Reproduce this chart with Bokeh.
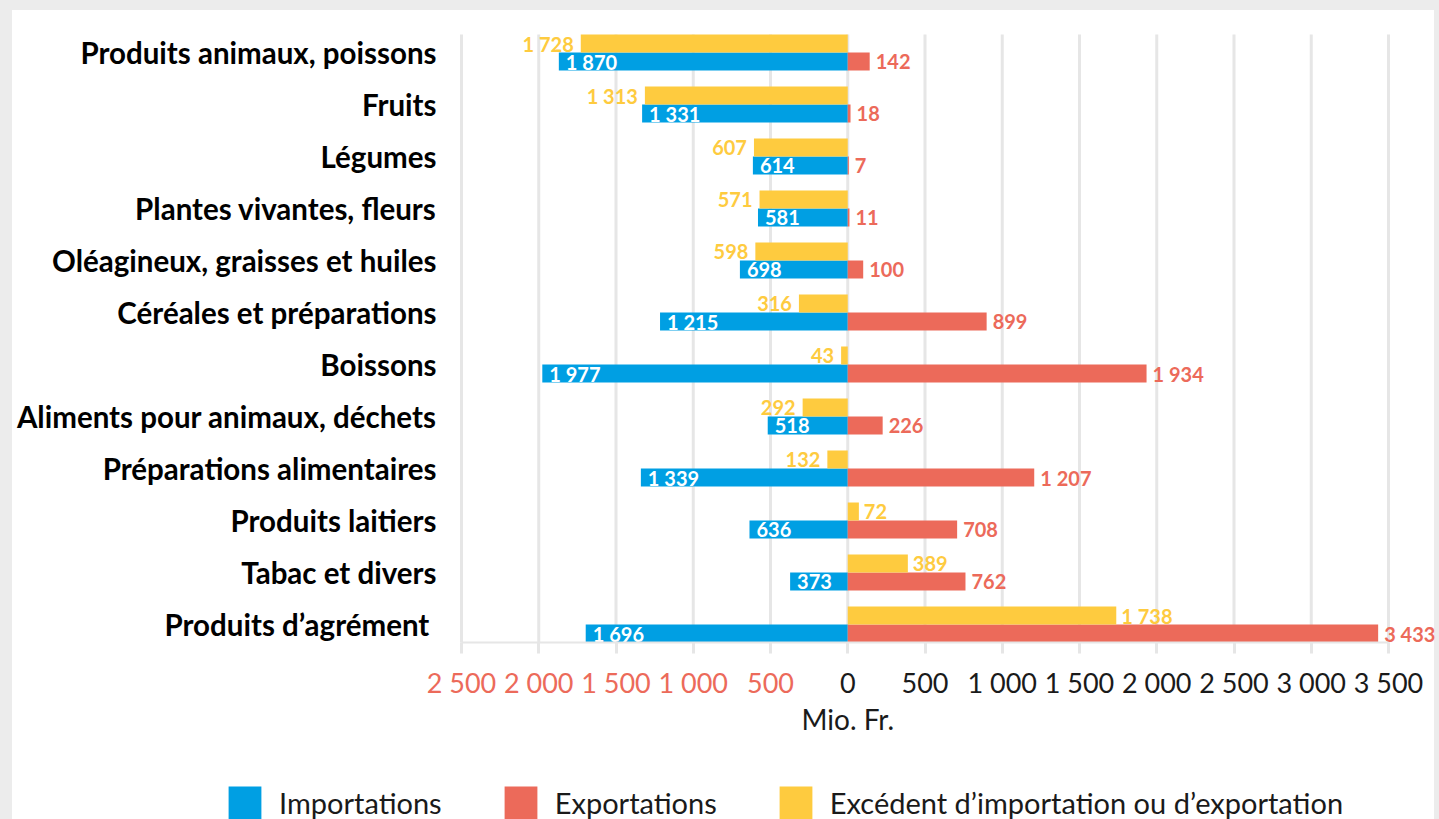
from bokeh.plotting import figure
from bokeh.models import (Range1d, FixedTicker, Label, ColumnDataSource,
                          Legend, LegendItem, LinearAxis)
from bokeh.embed import file_html
from bokeh.resources import INLINE
from bokeh.core.properties import value

# ---------------- data ----------------
categories = [
    "Produits animaux, poissons",
    "Fruits",
    "Légumes",
    "Plantes vivantes, fleurs",
    "Oléagineux, graisses et huiles",
    "Céréales et préparations",
    "Boissons",
    "Aliments pour animaux, déchets",
    "Préparations alimentaires",
    "Produits laitiers",
    "Tabac et divers",
    "Produits d’agrément\u00a0",
]
imports = [1870, 1331, 614, 581, 698, 1215, 1977, 518, 1339, 636, 373, 1696]
exports = [142, 18, 7, 11, 100, 899, 1934, 226, 1207, 708, 762, 3433]
balance = [-1728, -1313, -607, -571, -598, -316, -43, -292, -132, 72, 389, 1738]

x_ticks = [-2500, -2000, -1500, -1000, -500, 0, 500, 1000, 1500, 2000, 2500, 3000, 3500]
x_tick_labels = ["2 500", "2 000", "1 500", "1 000", "500", "0", "500",
                 "1 000", "1 500", "2 000", "2 500", "3 000", "3 500"]
legend_labels = ["Importations", "Exportations", "Excédent d’importation ou d’exportation"]
x_title = "Mio. Fr."

# ---------------- style ----------------
BLUE = "#009fe3"
RED = "#ec6a5a"
YELLOW = "#fecb3f"
GRID = "#e6e6e6"
TXT = "#1a1a1a"
FONT = "Lato"

W, H = 1439, 819
PLOT_L, PLOT_R_TICK = 461, 1388     # pixel positions of x=-2500 and x=3500
PLOT_T = 34                         # top of first bar group
BAND = 52                           # px per category

def fmt(v):
    return f"{abs(v):,}".replace(",", " ")

n = len(categories)
bh = 18 / BAND                      # bar height in category units
idx = list(range(n))
xmin, xmax = x_ticks[0], x_ticks[-1]
kx = (PLOT_R_TICK - PLOT_L) / (xmax - xmin)   # px per unit
x0 = xmin - PLOT_L / kx
x1 = xmin + (W - PLOT_L) / kx
y_top = -bh - PLOT_T / BAND
y_bot = y_top + H / BAND
axis_y = n - 1 + bh

p = figure(width=W, height=H, output_backend="svg", toolbar_location=None,
           x_range=Range1d(x0, x1), y_range=Range1d(y_bot, y_top),
           min_border_left=0, min_border_right=0, min_border_top=0,
           min_border_bottom=0, x_axis_location=None, y_axis_location=None)
p.outline_line_color = None
p.background_fill_color = None
p.border_fill_color = None
p.styles = {"background-color": "white",
            "box-shadow": "inset 12px 10px 0 0 #ececec, inset -5px 0 0 0 #ececec"}
p.xgrid.visible = False
p.ygrid.visible = False

# vertical grid lines at the tick positions
p.segment(x0=x_ticks, y0=[-bh] * len(x_ticks), x1=x_ticks, y1=[axis_y] * len(x_ticks),
          line_color=GRID, line_width=3)

src = ColumnDataSource(dict(
    y_top=[i - bh / 2 for i in idx],
    y_bot=[i + bh / 2 for i in idx],
    imp_left=[-v for v in imports],
    exp_right=exports,
    bal_left=[min(0, b) for b in balance],
    bal_right=[max(0, b) for b in balance],
    bal_x=balance,
    bal_align=["right" if b < 0 else "left" for b in balance],
    bal_off=[-7 if b < 0 else 5 for b in balance],
    imp_txt=[fmt(v) for v in imports],
    exp_txt=[fmt(v) for v in exports],
    bal_txt=[fmt(v) for v in balance],
))

r_imp = p.hbar(y="y_bot", left="imp_left", right=0, height=bh, source=src,
               fill_color=BLUE, line_color=None)
r_exp = p.hbar(y="y_bot", left=0, right="exp_right", height=bh, source=src,
               fill_color=RED, line_color=None)
r_bal = p.hbar(y="y_top", left="bal_left", right="bal_right", height=bh, source=src,
               fill_color=YELLOW, line_color=None)

# value labels
lab_kw = dict(text_baseline="middle", text_font=value(FONT), text_font_style="bold",
              text_font_size="20px")
p.text(x="imp_left", y="y_bot", text="imp_txt", source=src, x_offset=7,
       text_align="left", text_color="white", **lab_kw)
p.text(x="exp_right", y="y_bot", text="exp_txt", source=src, x_offset=6,
       text_align="left", text_color=RED, **lab_kw)
p.text(x="bal_x", y="y_top", text="bal_txt", source=src, x_offset="bal_off",
       text_align="bal_align", text_color=YELLOW, **lab_kw)

# x axis (positive labels black)
xa = LinearAxis(fixed_location=axis_y, bounds=(xmin, xmax),
                ticker=FixedTicker(ticks=x_ticks))
xa.major_label_overrides = {t: (lab if t >= 0 else "") for t, lab in zip(x_ticks, x_tick_labels)}
xa.axis_line_color = GRID
xa.axis_line_width = 2
xa.major_tick_line_color = GRID
xa.major_tick_line_width = 3
xa.major_tick_out = 11
xa.major_tick_in = 0
xa.minor_tick_line_color = None
xa.major_label_text_font = FONT
xa.major_label_text_font_size = "27px"
xa.major_label_text_color = TXT
xa.major_label_standoff = 12
p.add_layout(xa, "below")

# x axis (negative side labels in red)
neg_ticks = [t for t in x_ticks if t < 0]
xa2 = LinearAxis(fixed_location=axis_y, bounds=(xmin, xmax),
                 ticker=FixedTicker(ticks=neg_ticks))
xa2.major_label_overrides = {t: lab for t, lab in zip(x_ticks, x_tick_labels) if t < 0}
xa2.axis_line_color = None
xa2.major_tick_line_color = None
xa2.major_tick_out = 11
xa2.major_tick_in = 0
xa2.minor_tick_line_color = None
xa2.major_label_text_font = FONT
xa2.major_label_text_font_size = "27px"
xa2.major_label_text_color = RED
xa2.major_label_standoff = 12
p.add_layout(xa2, "below")

p.add_layout(Label(x=0, y=axis_y + 76 / BAND, text=x_title, text_align="center",
                   text_baseline="middle", text_color=TXT, text_font=FONT,
                   text_font_size="28px"))

# y axis with category names
ya = LinearAxis(fixed_location=xmin, ticker=FixedTicker(ticks=idx))
ya.major_label_overrides = {i: c for i, c in zip(idx, categories)}
ya.axis_line_color = None
ya.major_tick_line_color = None
ya.minor_tick_line_color = None
ya.major_label_text_font = FONT
ya.major_label_text_font_style = "bold"
ya.major_label_text_font_size = "29.5px"
ya.major_label_text_color = "black"
ya.major_label_standoff = 19
p.add_layout(ya, "left")

# legend
legend = Legend(items=[LegendItem(label=legend_labels[0], renderers=[r_imp]),
                       LegendItem(label=legend_labels[1], renderers=[r_exp]),
                       LegendItem(label=legend_labels[2], renderers=[r_bal])],
                orientation="horizontal", location=(224, -4),
                glyph_width=41, glyph_height=41, label_standoff=14, spacing=58,
                padding=0, margin=0, border_line_color=None, background_fill_alpha=0,
                label_text_font=FONT, label_text_font_size="29px",
                label_text_color=TXT)
p.add_layout(legend)

open("out.html", "w").write(file_html(p, INLINE))
